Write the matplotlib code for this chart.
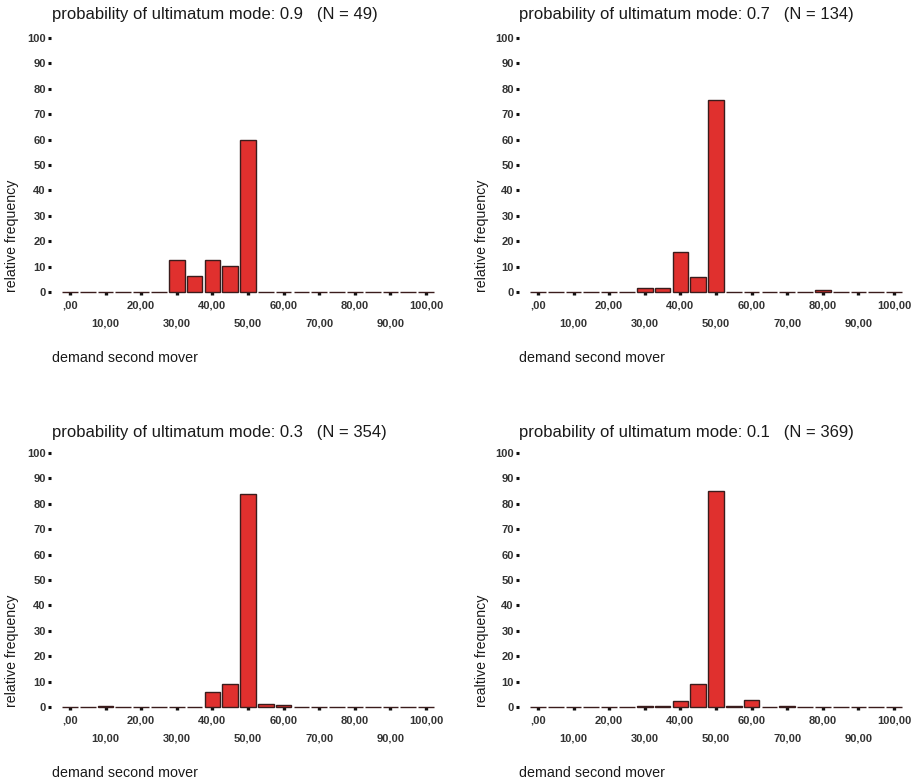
import matplotlib
matplotlib.use('Agg')
import matplotlib.pyplot as plt

plt.rcParams['font.family'] = ['Liberation Sans', 'DejaVu Sans']

# demand bins (centres, step 5)
bins = [0, 5, 10, 15, 20, 25, 30, 35, 40, 45, 50, 55, 60, 65, 70, 75, 80, 85, 90, 95, 100]

# relative frequency (%) per bin
freq_09 = [0, 0, 0, 0, 0, 0, 12.5, 6.3, 12.5, 10.3, 60.0, 0, 0, 0, 0, 0, 0, 0, 0, 0, 0]
freq_07 = [0, 0, 0, 0, 0, 0, 1.5, 1.5, 15.6, 5.8, 75.7, 0, 0, 0, 0, 0, 0.7, 0, 0, 0, 0]
freq_03 = [0, 0, 0.3, 0, 0, 0, 0, 0, 5.8, 9.1, 83.9, 1.2, 0.8, 0, 0, 0, 0, 0, 0, 0, 0]
freq_01 = [0, 0, 0, 0, 0, 0, 0.3, 0.3, 2.5, 9.1, 84.9, 0.3, 2.9, 0, 0.3, 0, 0, 0, 0, 0, 0]

titles = ["probability of ultimatum mode: 0.9   (N = 49)",
          "probability of ultimatum mode: 0.7   (N = 134)",
          "probability of ultimatum mode: 0.3   (N = 354)",
          "probability of ultimatum mode: 0.1   (N = 369)"]
ylabels = ["relative frequency", "relative frequency",
           "relative frequency", "realtive frequency"]
xlabel = "demand second mover"

major_ticks = [0, 20, 40, 60, 80, 100]
major_labels = [",00", "20,00", "40,00", "60,00", "80,00", "100,00"]
minor_ticks = [10, 30, 50, 70, 90]
minor_labels = ["10,00", "30,00", "50,00", "70,00", "90,00"]
y_ticks = [0, 10, 20, 30, 40, 50, 60, 70, 80, 90, 100]

W, H = 913, 783
fig = plt.figure(figsize=(W / 100, H / 100), dpi=100)

BAR = '#e0302e'
EDGE = '#3a1c1c'
TXT = '#1a1a1a'

# layout in pixels: (left, right, bottom, top)
layout = [(61, 435, 292, 38), (529, 903, 292, 38),
          (61, 435, 707, 453), (529, 903, 707, 453)]
title_pos = [(52, 15), (519, 15), (52, 432), (519, 432)]
ylab_pos = [(12, 292), (482, 292), (12, 707), (482, 707)]
xlab_pos = [(52, 358), (519, 358), (52, 773), (519, 773)]

data = [freq_09, freq_07, freq_03, freq_01]

for i in range(4):
    l, r, b, t = layout[i]
    ax = fig.add_axes([l / W, (H - b) / H, (r - l) / W, (b - t) / H])
    ax.bar(bins, data[i], width=4.4, color=BAR, edgecolor=EDGE,
           linewidth=1.0, clip_on=False, zorder=3)
    ax.set_xlim(-2.5, 102.5)
    ax.set_ylim(0, 100)
    for s in ['top', 'right', 'bottom']:
        ax.spines[s].set_visible(False)
    ax.spines['left'].set_position(('outward', 7))
    ax.spines['left'].set_visible(False)
    ax.set_facecolor('none')

    ax.set_xticks(major_ticks)
    ax.set_xticklabels(major_labels, fontweight='bold')
    ax.set_xticks(minor_ticks, minor=True)
    ax.set_xticklabels(minor_labels, minor=True, fontweight='bold')
    ax.tick_params(axis='x', which='both', direction='out', length=2.2,
                   width=2.4, color='#111111', labelsize=8, labelcolor='#333333')
    ax.tick_params(axis='x', which='major', pad=4)
    ax.tick_params(axis='x', which='minor', pad=17)

    ax.set_yticks(y_ticks)
    ax.set_yticklabels([str(v) for v in y_ticks], fontweight='bold')
    ax.tick_params(axis='y', direction='out', length=2, width=2.2,
                   color='#111111', labelsize=8, labelcolor='#333333', pad=2)

    tx, ty = title_pos[i]
    fig.text(tx / W, 1 - ty / H, titles[i], fontsize=12, color=TXT,
             ha='left', va='center')
    yx, yy = ylab_pos[i]
    fig.text(yx / W, 1 - yy / H, ylabels[i], fontsize=10.2, color=TXT,
             rotation=90, ha='center', va='bottom')
    xx, xy = xlab_pos[i]
    fig.text(xx / W, 1 - xy / H, xlabel, fontsize=10.3, color=TXT,
             ha='left', va='center')

fig.savefig('out.png', dpi=100)
